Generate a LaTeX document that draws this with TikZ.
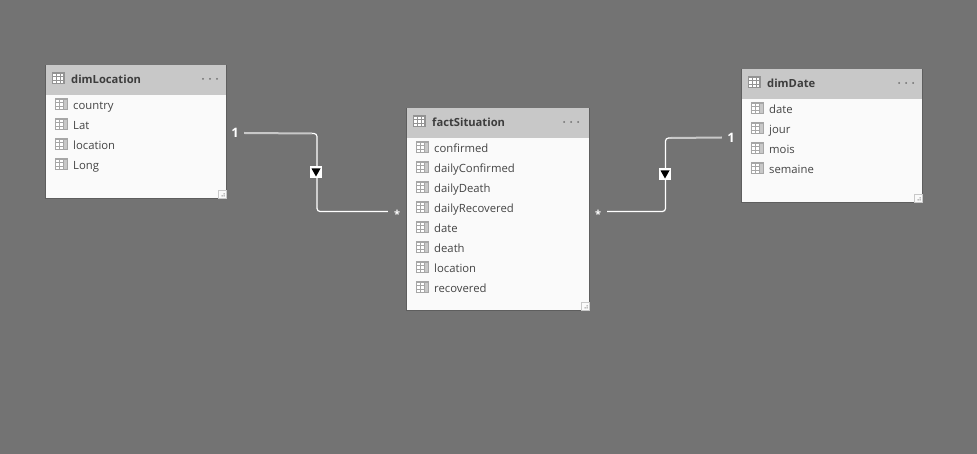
\documentclass[tikz,border=0pt]{standalone}
\usepackage{fontspec}
\setmainfont{Open Sans}
\definecolor{bgc}{HTML}{737373}
\definecolor{hdr}{HTML}{C8C8C8}
\definecolor{bodyc}{HTML}{FAFAFA}
\definecolor{edgec}{HTML}{5E5E5E}
\definecolor{txt}{HTML}{444444}
\definecolor{ico}{HTML}{A6A6A6}
\definecolor{dots}{HTML}{6E6E6E}
\tikzset{
  tablebody/.style={draw=edgec,line width=.8pt,fill=bodyc,anchor=north west,inner sep=0pt,outer sep=0pt},
  tablehead/.style={fill=hdr,anchor=north west,inner sep=0pt,outer sep=0pt},
  titletext/.style={anchor=base west,inner sep=0pt,font=\fontsize{11.2}{14}\selectfont\bfseries,text=txt!90!black},
  rowtext/.style={anchor=base west,inner sep=0pt,font=\fontsize{11.3}{14}\selectfont,text=txt},
  cardtext/.style={inner sep=0pt,minimum width=18pt,minimum height=12pt,text=white},
  onetext/.style={cardtext,font=\fontsize{13}{14}\selectfont\bfseries},
  manytext/.style={cardtext,font=\fontsize{11}{12}\selectfont\bfseries},
  markbox/.style={fill=white,inner sep=0pt,minimum size=11.5pt,outer sep=0pt},
  rel/.style={white,line width=1.2pt,rounded corners=3pt},
  relgray/.style={hdr,line width=2pt},
  griptab/.style={draw=hdr,fill=bodyc,line width=.7pt}
}
\newcommand{\rowicon}[2]{%
  \fill[ico] (#1,#2-6) rectangle ++(13,12);
  \foreach \i in {0,1,2}{\foreach \j in {0,1}{
    \fill[white] (#1+1.3+\j*3.6,#2-4.8+\i*3.5) rectangle ++(2.8,2.6);}}
  \fill[hdr] (#1+8.6,#2-4.8) rectangle ++(3.2,9.6);
}
\newcommand{\headicon}[2]{%
  \fill[gray!85] (#1,#2-6) rectangle ++(13,12);
  \foreach \i in {0,1,2}{\foreach \j in {0,1,2}{
    \fill[white] (#1+1.3+\j*3.6,#2-4.8+\i*3.5) rectangle ++(2.8,2.6);}}
}
% #1 name, #2 x, #3 y, #4 width, #5 height, #6 title, #7 rows
\newcommand{\modeltable}[7]{%
  \node[tablebody,minimum width=#4pt,minimum height=#5pt] (#1) at (#2,#3) {};
  \node[tablehead,minimum width=#4pt,minimum height=30pt] (#1head) at (#2,#3) {};
  \headicon{#2+6.5}{#3+13.5}
  \node[titletext] (#1title) at (#2+25.5,#3+19) {#6};
  \fill[dots] (#2+157.5,#3+14) circle (1) (#2+164.5,#3+14) circle (1) (#2+171.5,#3+14) circle (1);
  \foreach \t [count=\n from 0] in {#7}{
    \rowicon{#2+9.5}{#3+39.5+20*\n}
    \node[rowtext] (#1row\n) at (#2+27.5,#3+45+20*\n) {\t};
  }
  \fill[griptab] (#2+#4-8,#3+#5-8) rectangle (#2+#4,#3+#5);
  \fill[dots] (#2+#4-2.5,#3+#5-4.5) rectangle ++(1,1) (#2+#4-4.5,#3+#5-2.5) rectangle ++(1,1) (#2+#4-2.5,#3+#5-2.5) rectangle ++(1,1);
}
\begin{document}
\begin{tikzpicture}[x=1pt,y=-1pt]
\useasboundingbox[fill=bgc] (0,0) rectangle (977,454);
\modeltable{loc}{45.5}{65}{180.5}{133}{dimLocation}{country,Lat,location,Long}
\modeltable{fact}{406.5}{108}{182.5}{202}{factSituation}{confirmed,dailyConfirmed,dailyDeath,dailyRecovered,date,death,location,recovered}
\modeltable{dat}{741.5}{69}{180.5}{133}{dimDate}{date,jour,mois,semaine}

\node[onetext] (oneL) at (235,133) {1};
\node[onetext] (oneR) at (731,137.5) {1};
\node[manytext] (manyL) at (397,214) {*};
\node[manytext] (manyR) at (598,214) {*};

\coordinate (cornerLa) at (312,133.5);
\coordinate (cornerLb) at (317,133.5);
\coordinate (cornerLc) at (317,211.5);
\coordinate (cornerRa) at (671,138);
\coordinate (cornerRb) at (665.5,138);
\coordinate (cornerRc) at (665.5,211.5);

\draw[relgray] (oneL.east) -- (cornerLa);
\draw[rel] (cornerLa) -- (cornerLb) -- (cornerLc) -- (cornerLc -| manyL.west);
\draw[relgray] (oneR.west) -- (cornerRa);
\draw[rel] (cornerRa) -- (cornerRb) -- (cornerRc) -- (cornerRc -| manyR.east);

\node[markbox] (markL) at (316,172) {};
\node[markbox] (markR) at (665,174) {};
\fill[black] (311.5,168.5) -- (320.5,168.5) -- (316,176.5) -- cycle;
\fill[black] (660.5,170.5) -- (669.5,170.5) -- (665,178.5) -- cycle;
\end{tikzpicture}
\end{document}
